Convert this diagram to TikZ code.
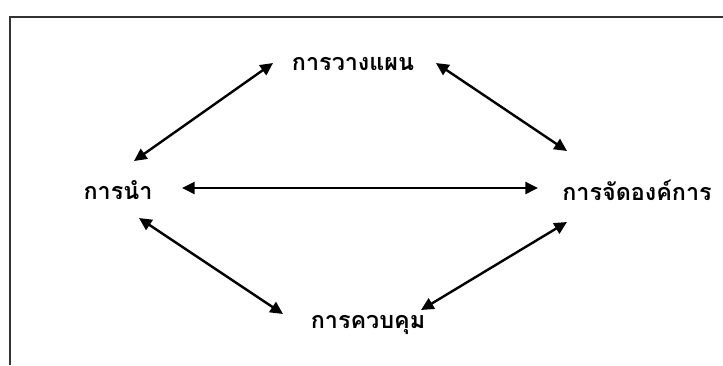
\documentclass[tikz,border=0pt]{standalone}
\usepackage{fontspec}
\newfontfamily\thaifont[Script=Thai]{Loma}
\usetikzlibrary{arrows.meta}
\begin{document}
\begin{tikzpicture}[x=0.75pt,y=-0.75pt,
  lbl/.style={font=\thaifont\bfseries\fontsize{17.5pt}{20pt}\selectfont, text=black, inner sep=0pt},
  link/.style={line width=1.8pt, {Triangle[length=9.5pt,width=9pt]}-{Triangle[length=9.5pt,width=9pt]}}]
\useasboundingbox (0,0) rectangle (723,365);
\draw[line width=1.5pt, draw=black!80] (10,365) -- (10,17) -- (723,17);
\node[lbl] (plan) at (353,64) {การวางแผน};
\node[lbl] (lead) at (118,190) {การนำ};
\node[lbl] (org) at (637,190) {การจัดองค์การ};
\node[lbl] (ctrl) at (368,325) {การควบคุม};
\coordinate (a1) at (134,161); \coordinate (a2) at (273,63);
\coordinate (b1) at (436,63); \coordinate (b2) at (567,151);
\coordinate (c1) at (139,218); \coordinate (c2) at (283,314);
\coordinate (d1) at (421,310); \coordinate (d2) at (567,222);
\coordinate (e1) at (182,188); \coordinate (e2) at (538,188);
\draw[link] (a1) -- (a2);
\draw[link] (b1) -- (b2);
\draw[link] (c1) -- (c2);
\draw[link] (d1) -- (d2);
\draw[link] (e1) -- (e2);
\end{tikzpicture}
\end{document}
